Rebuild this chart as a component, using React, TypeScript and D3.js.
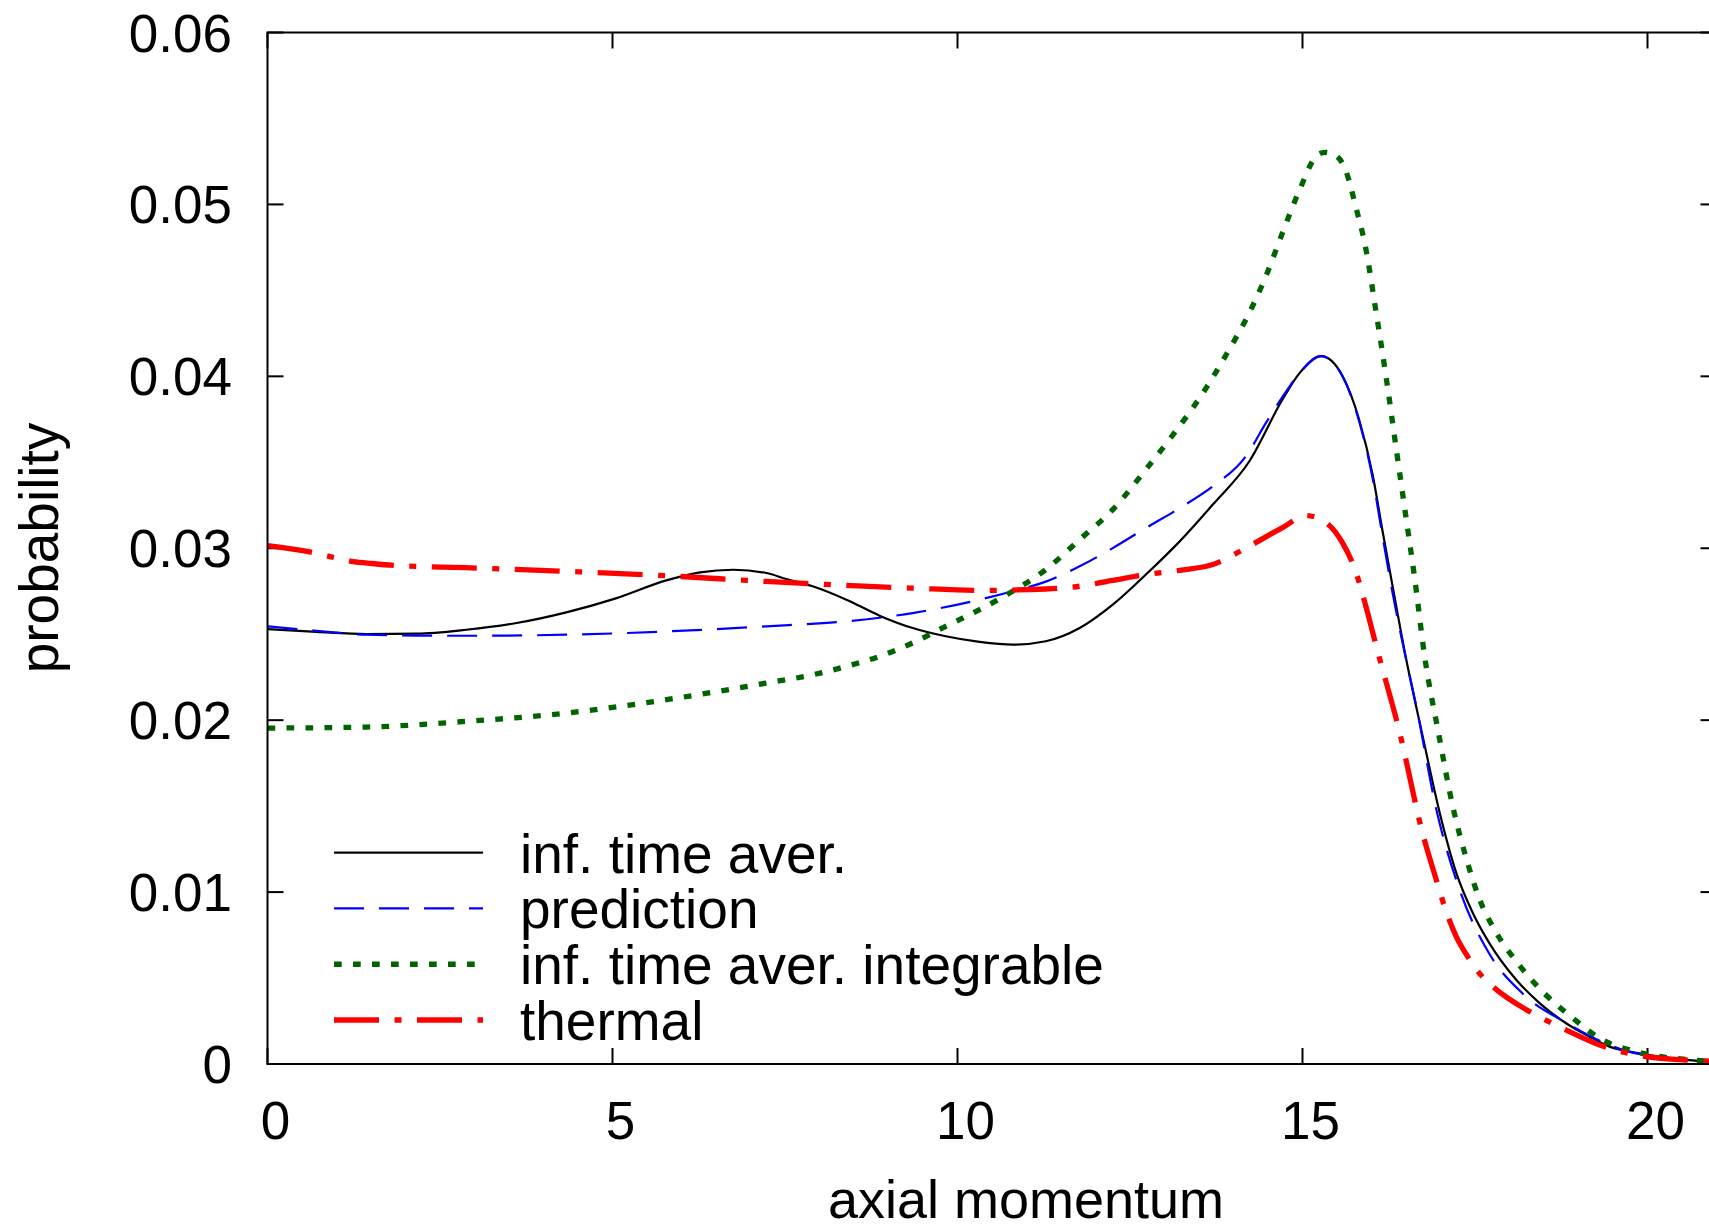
import React from "react";
import * as d3 from "d3";

// values
const timeAverX = [0, 0.71, 1.43, 2.16, 2.88, 3.61, 4.33, 5.06, 5.78, 6.27, 6.75, 7.23, 7.52, 7.9, 8.39, 8.87, 9.35, 9.83, 10.32, 10.8, 11.28, 11.77, 12.25, 12.73, 13.22, 13.7, 14.23, 14.71, 14.96, 15.27, 15.58, 15.82, 16.02, 16.16, 16.31, 16.5, 16.74, 16.99, 17.23, 17.47, 17.71, 18.1, 18.44, 18.82, 19.16, 19.45, 19.88, 20.37, 20.88, 21];
const timeAverY = [0.0253, 0.02514, 0.02501, 0.02503, 0.02526, 0.02565, 0.02627, 0.0271, 0.02813, 0.0286, 0.02875, 0.02856, 0.02821, 0.02779, 0.02701, 0.02608, 0.02536, 0.02488, 0.02455, 0.02439, 0.02459, 0.02536, 0.02672, 0.02847, 0.0304, 0.03254, 0.03506, 0.03865, 0.0402, 0.04117, 0.04002, 0.03749, 0.0342, 0.031, 0.0277, 0.0236, 0.0191, 0.01459, 0.0111, 0.00877, 0.00702, 0.00489, 0.00353, 0.00237, 0.00159, 0.00101, 0.00062, 0.00033, 0.00014, 0.00012];

const predictionX = [0, 0.71, 1.43, 2.16, 2.88, 4.33, 5.78, 7.23, 8.39, 9.35, 10.32, 10.8, 11.28, 11.77, 12.25, 12.73, 13.22, 13.7, 14.18, 14.47, 14.71, 14.96, 15.27, 15.58, 15.82, 16.02, 16.16, 16.31, 16.45, 16.65, 16.94, 17.28, 17.71, 18.19, 18.82, 19.64, 20.4, 21];
const predictionY = [0.02546, 0.0252, 0.02497, 0.02492, 0.02491, 0.02497, 0.02516, 0.02546, 0.02575, 0.02623, 0.02701, 0.0275, 0.02806, 0.02895, 0.03001, 0.03118, 0.03234, 0.0336, 0.03535, 0.03729, 0.0388, 0.0402, 0.04117, 0.04, 0.0374, 0.034, 0.0307, 0.0273, 0.0245, 0.0208, 0.0148, 0.0101, 0.0064, 0.0041, 0.0024, 0.00082, 0.0003, 0.00012];

const integrableX = [0, 1.43, 2.88, 4.33, 5.78, 7.23, 7.9, 8.39, 8.87, 9.35, 9.83, 10.32, 10.8, 11.28, 11.77, 12.25, 12.73, 13.07, 13.6, 13.9, 14.23, 14.47, 14.71, 14.96, 15.2, 15.32, 15.46, 15.63, 15.77, 15.92, 16.06, 16.21, 16.36, 16.5, 16.63, 16.77, 16.97, 17.18, 17.39, 17.56, 17.8, 18.12, 18.48, 18.89, 19.35, 19.83, 20.66, 21];
const integrableY = [0.01954, 0.0196, 0.01993, 0.02041, 0.02119, 0.02216, 0.02264, 0.02313, 0.02371, 0.02449, 0.02546, 0.02643, 0.0275, 0.02876, 0.0305, 0.03225, 0.03458, 0.03632, 0.0393, 0.0413, 0.0437, 0.04583, 0.04835, 0.05087, 0.05281, 0.05303, 0.0529, 0.05194, 0.0499, 0.04738, 0.0439, 0.04001, 0.03574, 0.0318, 0.02813, 0.02371, 0.01928, 0.01494, 0.01174, 0.00964, 0.0077, 0.00586, 0.00421, 0.00276, 0.0014, 0.00072, 0.00023, 0.00015];

const thermalX = [0, 0.63, 0.92, 1.21, 1.45, 1.84, 2.88, 4.33, 5.78, 7.23, 8.39, 9.35, 10.32, 11.28, 11.77, 12.25, 12.73, 13.22, 13.7, 14.18, 14.71, 15.05, 15.29, 15.58, 15.77, 15.92, 16.07, 16.41, 16.74, 16.94, 17.08, 17.23, 17.37, 17.54, 17.76, 18.29, 18.77, 19.38, 19.93, 20.56, 21];
const thermalY = [0.03015, 0.02977, 0.0295, 0.02924, 0.02914, 0.029, 0.02887, 0.02866, 0.0284, 0.02807, 0.02784, 0.02768, 0.02755, 0.02763, 0.02779, 0.02813, 0.02847, 0.02872, 0.02905, 0.03001, 0.0312, 0.0319, 0.03163, 0.03031, 0.02866, 0.0266, 0.02429, 0.01925, 0.01343, 0.0107, 0.0089, 0.0074, 0.0064, 0.0054, 0.0045, 0.00305, 0.00208, 0.001, 0.00046, 0.00023, 0.00015];

const seriesLabels = ["inf. time aver.", "prediction", "inf. time aver. integrable", "thermal"];
const xTicks = [0, 5, 10, 15, 20];
const yTicks = [0, 0.01, 0.02, 0.03, 0.04, 0.05, 0.06];
const yTickLabels = ["0", "0.01", "0.02", "0.03", "0.04", "0.05", "0.06"];

const W = 1709;
const H = 1231;
const left = 267.5;
const top = 32.5;
const bottom = 1064;
const right = left + 21 * 69;
const font = "'Liberation Sans', Arial, Helvetica, sans-serif";

const styles = [
  { color: "#000000", width: 2.2, dash: undefined },
  { color: "#0000ff", width: 2.2, dash: "30 15" },
  { color: "#006400", width: 5.3, dash: "7.7 11.3" },
  { color: "#ff0000", width: 5.3, dash: "45 15.5 7 15.5" },
];

export default function App() {
  const x = d3.scaleLinear().domain([0, 21]).range([left, right]);
  const y = d3.scaleLinear().domain([0, 0.06]).range([bottom, top]);

  const line = d3
    .line<[number, number]>()
    .x((d) => x(d[0]))
    .y((d) => y(d[1]))
    .curve(d3.curveMonotoneX);

  const data = [
    [timeAverX, timeAverY],
    [predictionX, predictionY],
    [integrableX, integrableY],
    [thermalX, thermalY],
  ].map(([xs, ys]) => xs.map((v, i) => [v, ys[i]] as [number, number]));

  const tick = 16;
  const legendY = d3.scaleLinear().domain([0, 3]).range([852.7, 1020]);

  return (
    <svg
      width={W}
      height={H}
      style={{ position: "absolute", left: 0, top: 0, background: "#fff" }}
      fontFamily={font}
    >
      <defs>
        <clipPath id="plot">
          <rect x={left} y={top} width={right - left} height={bottom - top} />
        </clipPath>
      </defs>
      <rect width={W} height={H} fill="#fff" />

      {/* ticks on all four sides */}
      {xTicks.map((t) => (
        <g key={"x" + t}>
          <line x1={x(t)} x2={x(t)} y1={bottom} y2={bottom - tick} stroke="#000" strokeWidth={2} />
          <line x1={x(t)} x2={x(t)} y1={top} y2={top + tick} stroke="#000" strokeWidth={2} />
          <text x={x(t) + 8} y={1139} fontSize={53} textAnchor="middle">
            {t}
          </text>
        </g>
      ))}
      {yTicks.map((t, i) => (
        <g key={"y" + t}>
          <line x1={left} x2={left + tick} y1={y(t)} y2={y(t)} stroke="#000" strokeWidth={2} />
          <line x1={right} x2={right - tick} y1={y(t)} y2={y(t)} stroke="#000" strokeWidth={2} />
          <text x={232} y={y(t) + 19} fontSize={53} textAnchor="end">
            {yTickLabels[i]}
          </text>
        </g>
      ))}

      <g clipPath="url(#plot)">
        {data.map((pts, i) => (
          <path
            key={i}
            d={line(pts) ?? ""}
            fill="none"
            stroke={styles[i].color}
            strokeWidth={styles[i].width}
            strokeDasharray={styles[i].dash}
          />
        ))}
      </g>

      <rect
        x={left}
        y={top}
        width={right - left}
        height={bottom - top}
        fill="none"
        stroke="#000"
        strokeWidth={2}
      />

      {/* legend */}
      {seriesLabels.map((label, i) => (
        <g key={label}>
          <line
            x1={334}
            x2={483}
            y1={legendY(i)}
            y2={legendY(i)}
            stroke={styles[i].color}
            strokeWidth={styles[i].width}
            strokeDasharray={styles[i].dash}
          />
          <text x={520} y={legendY(i) + 20} fontSize={55}>
            {label}
          </text>
        </g>
      ))}

      <text x={1026} y={1218} fontSize={54} textAnchor="middle">
        axial momentum
      </text>
      <text transform="translate(58,548) rotate(-90)" fontSize={55} textAnchor="middle">
        probability
      </text>
    </svg>
  );
}
